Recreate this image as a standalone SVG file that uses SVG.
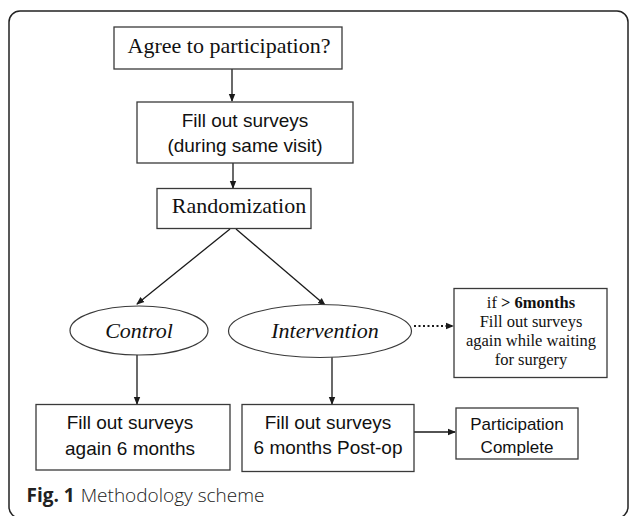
<svg xmlns="http://www.w3.org/2000/svg" width="629" height="516" viewBox="0 0 629 516">
<defs>
<marker id="ah" markerWidth="8" markerHeight="8" refX="7" refY="4" orient="auto" markerUnits="userSpaceOnUse">
<path d="M0,0.8 L8,4 L0,7.2 Z" fill="#1a1a1a"/>
</marker>
</defs>
<style>
.box{fill:#fff;stroke:#3a3a3a;stroke-width:1.3}
.ell{fill:#fff;stroke:#3a3a3a;stroke-width:1.2}
.serif{font-family:"Liberation Serif","Times New Roman",serif;fill:#111;text-anchor:middle}
.sans{font-family:"Liberation Sans",Arial,sans-serif;fill:#111;text-anchor:middle}
.con{stroke:#1a1a1a;stroke-width:1.3;fill:none;marker-end:url(#ah)}
.dot{stroke:#1a1a1a;stroke-width:2;fill:none;stroke-dasharray:2 2.5;marker-end:url(#ah)}
</style>
<rect x="0" y="0" width="629" height="516" fill="#fff"/>
<rect x="9" y="11" width="619" height="507" rx="11" ry="11" fill="none" stroke="#222" stroke-width="1.5"/>

<g id="connectors">
<line class="con" x1="232" y1="69" x2="232" y2="101"/>
<line class="con" x1="233" y1="163" x2="233" y2="188"/>
<line class="con" x1="230" y1="229" x2="137" y2="304"/>
<line class="con" x1="236" y1="229" x2="325" y2="305"/>
<line class="con" x1="137" y1="355" x2="137" y2="404"/>
<line class="con" x1="332" y1="357" x2="332" y2="404"/>
<line class="con" x1="414" y1="432" x2="455" y2="432"/>
<line class="dot" x1="414" y1="326" x2="453" y2="326"/>
</g>

<g id="agree">
<rect class="box" x="114" y="27" width="228" height="42"/>
<text class="serif" x="229" y="53" font-size="22">Agree to participation?</text>
</g>

<g id="fill1">
<rect class="box" x="137" y="102" width="216" height="61"/>
<text class="sans" x="245" y="127" font-size="19">Fill out surveys</text>
<text class="sans" x="245" y="152" font-size="19">(during same visit)</text>
</g>

<g id="random">
<rect class="box" x="157" y="188.5" width="154" height="40"/>
<text class="serif" x="239" y="213" font-size="22">Randomization</text>
</g>

<g id="control">
<ellipse class="ell" cx="139" cy="330.5" rx="69" ry="24.5"/>
<text class="serif" x="139" y="338" font-size="22" font-style="italic">Control</text>
</g>

<g id="intervention">
<ellipse class="ell" cx="320" cy="331" rx="91.5" ry="26.5"/>
<text class="serif" x="325" y="338" font-size="22" font-style="italic">Intervention</text>
</g>

<g id="ifmore">
<rect class="box" x="454" y="288.5" width="153" height="89"/>
<text class="serif" x="531" y="308" font-size="16.5">if <tspan font-weight="bold">&gt; 6months</tspan></text>
<text class="serif" x="531" y="327" font-size="16.5">Fill out surveys</text>
<text class="serif" x="531" y="346" font-size="16.5">again while waiting</text>
<text class="serif" x="531" y="365" font-size="16.5">for surgery</text>
</g>

<g id="fillcontrol">
<rect class="box" x="36" y="404.5" width="194" height="65.5"/>
<text class="sans" x="130" y="429" font-size="19">Fill out surveys</text>
<text class="sans" x="130" y="455" font-size="19">again 6 months</text>
</g>

<g id="fillpostop">
<rect class="box" x="242" y="404.5" width="172" height="67"/>
<text class="sans" x="328" y="428.5" font-size="19">Fill out surveys</text>
<text class="sans" x="328" y="454" font-size="19">6 months Post-op</text>
</g>

<g id="complete">
<rect class="box" x="456" y="408" width="122" height="51"/>
<text class="sans" x="517" y="430" font-size="17">Participation</text>
<text class="sans" x="517" y="452.5" font-size="17">Complete</text>
</g>

<g id="caption">
<text x="26.5" y="502" font-family="'Open Sans','Liberation Sans',sans-serif" font-size="19" fill="#222"><tspan font-weight="bold">Fig. 1</tspan><tspan font-weight="300" dx="6">Methodology scheme</tspan></text>
</g>
</svg>
